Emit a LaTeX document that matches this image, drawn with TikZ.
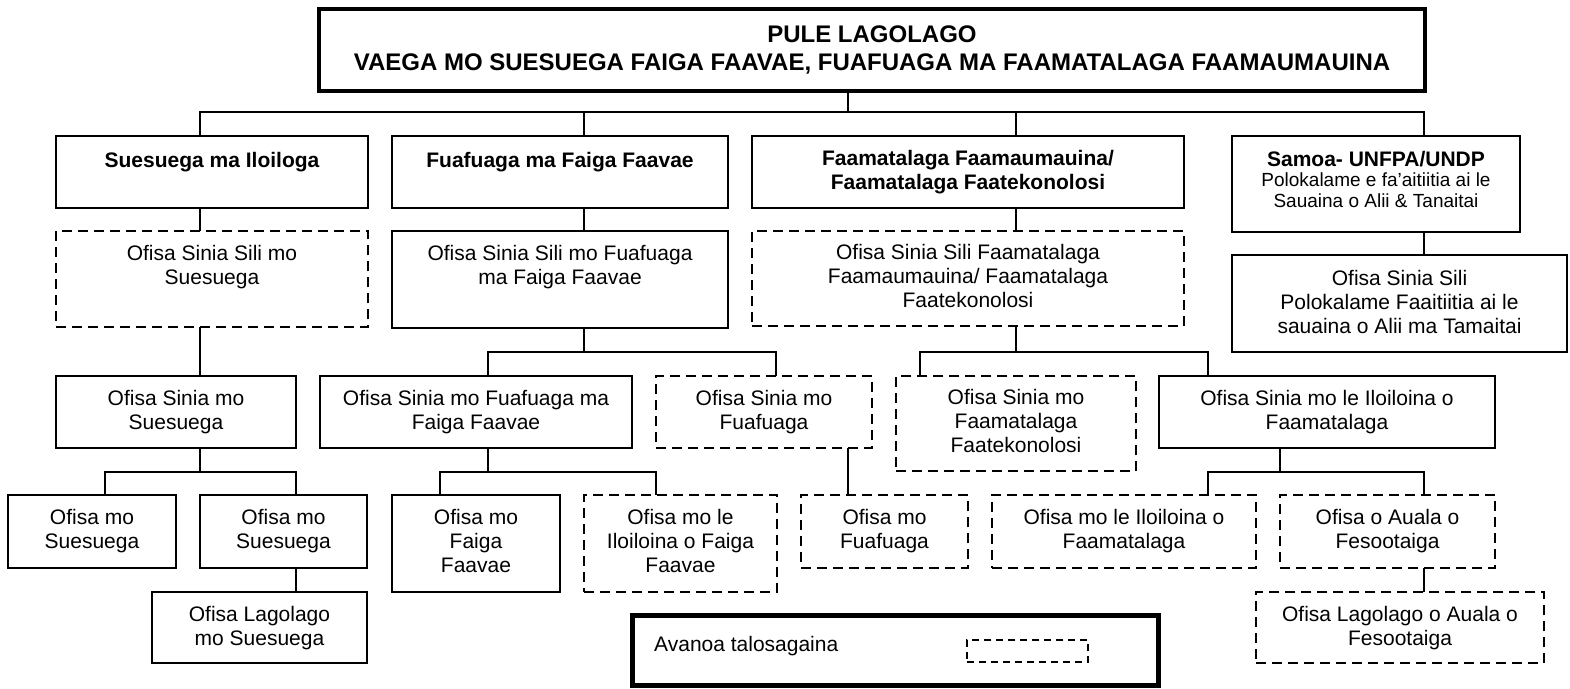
\documentclass[tikz,border=0pt]{standalone}
\usepackage{fontspec}
\setmainfont{Liberation Sans}
\newcommand\bx[6]{%
  \pgfmathsetmacro\bxw{#4-#2}\pgfmathsetmacro\bxh{#5-#3}%
  \node[#6, anchor=north west, minimum width=\bxw pt, minimum height=\bxh pt] (#1) at (#2,#3) {};}
\newcommand\tx[5]{\node[#1, anchor=north] (#2) at ([yshift=-#4pt]#3.north) {#5};}
\tikzset{
  anybox/.style={draw, rectangle, inner sep=0pt, outer sep=0pt},
  sbox/.style={anybox, line width=1.5pt},
  dbox/.style={anybox, line width=2.2pt, dash pattern=on 10pt off 6pt},
  topbox/.style={anybox, line width=3.5pt},
  legbox/.style={anybox, line width=5pt},
  legdash/.style={anybox, line width=1.6pt, dash pattern=on 7pt off 5pt},
  conn/.style={line width=1.5pt},
  txt/.style={align=center, inner sep=0pt, font=\fontsize{21}{24}\selectfont, execute at begin node=\strut},
  btxt/.style={txt, font=\fontsize{21}{24}\selectfont\bfseries},
  stxt/.style={align=center, inner sep=0pt, font=\fontsize{19}{21}\selectfont, execute at begin node=\strut},
  ttl/.style={align=center, inner sep=0pt, font=\fontsize{24}{28}\selectfont\bfseries},
}
\begin{document}
\begin{tikzpicture}[x=1pt, y=-1pt]
\useasboundingbox[fill=white] (0,0) rectangle (1570,688);
% boxes
\bx{top}{319}{9}{1425}{91}{topbox}
\bx{La}{56}{136}{368}{208}{sbox}
\bx{Lb}{392}{136}{728}{208}{sbox}
\bx{Lc}{752}{136}{1184}{208}{sbox}
\bx{Ld}{1232}{136}{1520}{232}{sbox}
\bx{Ma}{56}{231}{368}{327}{dbox}
\bx{Mb}{392}{231}{728}{328}{sbox}
\bx{Mc}{752}{231}{1184}{326}{dbox}
\bx{Md}{1232}{255}{1567}{352}{sbox}
\bx{Na}{56}{376}{296}{448}{sbox}
\bx{Nb}{320}{376}{632}{448}{sbox}
\bx{Nc}{656}{376}{872}{448}{dbox}
\bx{Nd}{896}{376}{1136}{471}{dbox}
\bx{Ne}{1159}{376}{1495}{448}{sbox}
\bx{Pa}{8}{495}{176}{568}{sbox}
\bx{Pb}{200}{495}{367}{568}{sbox}
\bx{Pc}{392}{495}{560}{592}{sbox}
\bx{Pd}{584}{495}{777}{592}{dbox}
\bx{Pe}{801}{495}{968}{568}{dbox}
\bx{Pf}{992}{495}{1256}{568}{dbox}
\bx{Pg}{1280}{495}{1495}{568}{dbox}
\bx{Qa}{152}{592}{367}{663}{sbox}
\bx{Qb}{1256}{592}{1544}{663}{dbox}
\bx{leg}{632}{615}{1158}{685}{legbox}
\bx{legs}{967}{640}{1088}{662}{legdash}
% texts
\node[ttl] (tTop) at (top.center) {PULE LAGOLAGO\\VAEGA MO SUESUEGA FAIGA FAAVAE, FUAFUAGA MA FAAMATALAGA FAAMAUMAUINA};
\tx{btxt}{tLa}{La}{14.2}{Suesuega ma Iloiloga}
\tx{btxt}{tLb}{Lb}{14.2}{Fuafuaga ma Faiga Faavae}
\tx{btxt}{tLc}{Lc}{14.2}{Faamatalaga Faamaumauina/\\Faamatalaga Faatekonolosi}
\tx{btxt}{tLd}{Ld}{13.2}{Samoa- UNFPA/UNDP}
\tx{stxt}{tLd2}{Ld}{36.3}{Polokalame e fa’aitiitia ai le\\Sauaina o Alii \& Tanaitai}
\tx{txt}{tMa}{Ma}{14.2}{Ofisa Sinia Sili mo\\Suesuega}
\tx{txt}{tMb}{Mb}{14.2}{Ofisa Sinia Sili mo Fuafuaga\\ma Faiga Faavae}
\tx{txt}{tMc}{Mc}{13.2}{Ofisa Sinia Sili Faamatalaga\\Faamaumauina/ Faamatalaga\\Faatekonolosi}
\tx{txt}{tMd}{Md}{15.2}{Ofisa Sinia Sili\\Polokalame Faaitiitia ai le\\sauaina o Alii ma Tamaitai}
\tx{txt}{tNa}{Na}{14.2}{Ofisa Sinia mo\\Suesuega}
\tx{txt}{tNb}{Nb}{14.2}{Ofisa Sinia mo Fuafuaga ma\\Faiga Faavae}
\tx{txt}{tNc}{Nc}{14.2}{Ofisa Sinia mo\\Fuafuaga}
\tx{txt}{tNd}{Nd}{13.2}{Ofisa Sinia mo\\Faamatalaga\\Faatekonolosi}
\tx{txt}{tNe}{Ne}{14.2}{Ofisa Sinia mo le Iloiloina o\\Faamatalaga}
\tx{txt}{tPa}{Pa}{14.2}{Ofisa mo\\Suesuega}
\tx{txt}{tPb}{Pb}{14.2}{Ofisa mo\\Suesuega}
\tx{txt}{tPc}{Pc}{14.2}{Ofisa mo\\Faiga\\Faavae}
\tx{txt}{tPd}{Pd}{14.2}{Ofisa mo le\\Iloiloina o Faiga\\Faavae}
\tx{txt}{tPe}{Pe}{14.2}{Ofisa mo\\Fuafuaga}
\tx{txt}{tPf}{Pf}{14.2}{Ofisa mo le Iloiloina o\\Faamatalaga}
\tx{txt}{tPg}{Pg}{14.2}{Ofisa o Auala o\\Fesootaiga}
\tx{txt}{tQa}{Qa}{14.2}{Ofisa Lagolago\\mo Suesuega}
\tx{txt}{tQb}{Qb}{14.2}{Ofisa Lagolago o Auala o\\Fesootaiga}
\node[font=\fontsize{21}{24}\selectfont, inner sep=0pt, anchor=base west] (tLeg) at (654,651) {Avanoa talosagaina};
% junction coordinates
\coordinate (j0) at (848,112);
\coordinate (j1) at (584,352);
\coordinate (j2) at (1016,352);
\coordinate (j3) at (200,472);
\coordinate (j4) at (488,472);
\coordinate (j5) at (1280,472);
% connectors
\draw[conn] (top.south -| j0) -- (j0);
\draw[conn] (La.north -| 200,0) |- (j0) -| (Ld.north -| 1424,0);
\draw[conn] (Lb.north -| 584,0) -- (584,112);
\draw[conn] (Lc.north -| 1016,0) -- (1016,112);
\draw[conn] (La.south -| 200,0) -- (Ma.north -| 200,0);
\draw[conn] (Lb.south -| 584,0) -- (Mb.north -| 584,0);
\draw[conn] (Lc.south -| 1016,0) -- (Mc.north -| 1016,0);
\draw[conn] (Ld.south -| 1424,0) -- (Md.north -| 1424,0);
\draw[conn] (Ma.south -| 200,0) -- (Na.north -| 200,0);
\draw[conn] (Mb.south -| j1) -- (j1);
\draw[conn] (Nb.north -| 488,0) |- (j1) -| (Nc.north -| 776,0);
\draw[conn] (Mc.south -| j2) -- (j2);
\draw[conn] (Nd.north -| 920,0) |- (j2) -| (Ne.north -| 1208,0);
\draw[conn] (Na.south -| j3) -- (j3);
\draw[conn] (Pa.north -| 105,0) |- (j3) -| (Pb.north -| 296,0);
\draw[conn] (Nb.south -| j4) -- (j4);
\draw[conn] (Pc.north -| 440,0) |- (j4) -| (Pd.north -| 656,0);
\draw[conn] (Nc.south -| 848,0) -- (Pe.north -| 848,0);
\draw[conn] (Ne.south -| j5) -- (j5);
\draw[conn] (Pf.north -| 1208,0) |- (j5) -| (Pg.north -| 1424,0);
\draw[conn] (Pb.south -| 296,0) -- (Qa.north -| 296,0);
\draw[conn] (Pg.south -| 1424,0) -- (Qb.north -| 1424,0);
\end{tikzpicture}
\end{document}
